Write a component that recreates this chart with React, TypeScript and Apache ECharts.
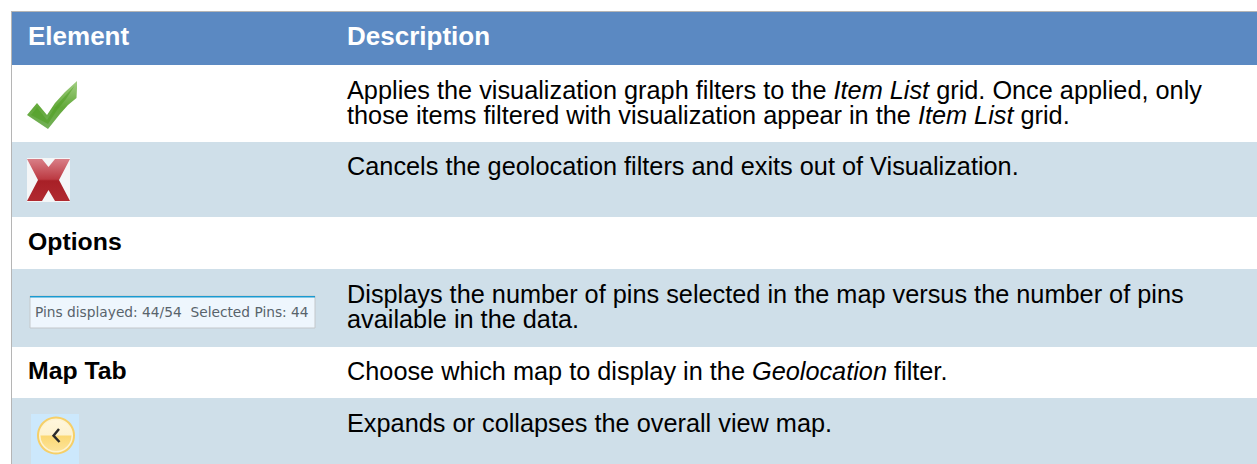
import React, { useEffect, useRef } from "react";
import * as echarts from "echarts";

const headers = ["Element", "Description"];
const rowLabels = ["", "", "Options", "", "Map Tab", ""];
const desc1 = [
  "{n|Applies the visualization graph filters to the }{i|Item List}{n| grid. Once applied, only}",
  "{n|those items filtered with visualization appear in the }{i|Item List}{n| grid.}",
];
const desc2 = ["{n|Cancels the geolocation filters and exits out of Visualization.}"];
const desc4 = [
  "{n|Displays the number of pins selected in the map versus the number of pins}",
  "{n|available in the data.}",
];
const desc5 = ["{n|Choose which map to display in the }{i|Geolocation}{n| filter.}"];
const desc6 = ["{n|Expands or collapses the overall view map.}"];
const pinsText = "Pins displayed: 44/54  Selected Pins: 44";

const FONT = "Liberation Sans, Arial, sans-serif";
const bodySize = 25.3;
const boldSize = 24.8;

export default function App() {
  const ref = useRef<HTMLDivElement>(null);
  useEffect(() => {
    document.body.style.margin = "0";
    const chart = echarts.init(ref.current!, undefined, { renderer: "svg" });
    const rich = {
      n: { fontFamily: FONT, fontSize: bodySize, lineHeight: 24, fill: "#000", color: "#000" },
      i: { fontFamily: FONT, fontSize: bodySize, lineHeight: 24, fontStyle: "italic", fill: "#000", color: "#000" },
    };
    const band = (y: number, h: number, fill: string) => ({
      type: "rect", shape: { x: 12, y, width: 1245, height: h }, style: { fill },
    });
    const desc = (lines: string[], y: number) =>
      lines.map((t, i) => ({
        type: "text", x: 347, y: y + i * 25,
        style: { text: t, rich, verticalAlign: "middle", align: "left" },
      }));
    const bold = (text: string, x: number, y: number, size: number, fill: string) => ({
      type: "text", x, y,
      style: { text, fontFamily: FONT, fontWeight: "bold", fontSize: size, fill, verticalAlign: "middle" },
    });
    const grad = (stops: [number, string][]) => ({
      type: "linear", x: 0, y: 0, x2: 0, y2: 1,
      colorStops: stops.map(([offset, color]) => ({ offset, color })),
    });
    chart.setOption({
      animation: false,
      backgroundColor: "#fff",
      graphic: {
        elements: [
          { type: "rect", shape: { x: 11, y: 11, width: 1246, height: 1 }, style: { fill: "#b5b5b5" } },
          { type: "rect", shape: { x: 11, y: 11, width: 1, height: 453 }, style: { fill: "#b5b5b5" } },
          band(12, 53, "#5b89c2"),
          band(142, 75, "#cfdfe9"),
          band(269, 78, "#cfdfe9"),
          band(398, 66, "#cfdfe9"),
          bold(headers[0], 28, 36, 26, "#fff"),
          bold(headers[1], 347, 36, 26, "#fff"),
          bold(rowLabels[2], 28, 241.5, boldSize, "#000"),
          bold(rowLabels[4], 28, 370.5, boldSize, "#000"),
          ...desc(desc1, 89.5),
          ...desc(desc2, 165.5),
          ...desc(desc4, 293.5),
          ...desc(desc5, 370.5),
          ...desc(desc6, 422.5),
          // check mark
          {
            type: "polygon",
            shape: { points: [[27, 115], [37, 103], [47, 115], [55, 103], [65, 92], [77, 81], [77, 88], [76.5, 98], [68, 105], [60, 114], [48, 129]] },
            style: { fill: grad([[0, "#a3cf84"], [0.55, "#63a93a"], [1, "#74b05a"]]) },
          },
          {
            type: "polygon",
            shape: { points: [[31, 115], [37, 107.5], [47, 120], [56, 106], [66, 95], [74.5, 86], [66, 99], [57, 110], [48, 124]] },
            style: { fill: "#4f9e22", opacity: 0.55 },
          },
          // cross
          { type: "rect", shape: { x: 27, y: 158, width: 43, height: 44 }, style: { fill: "#f4f6f7" } },
          {
            type: "polygon",
            shape: { points: [[27, 159], [42, 159], [48.5, 167], [55, 159], [70, 159], [59, 180], [70, 201], [55, 201], [48.5, 190], [42, 201], [27, 201], [38, 180]] },
            style: { fill: grad([[0, "#d97f87"], [0.48, "#bc3a42"], [0.52, "#a82027"], [1, "#b02a30"]]) },
          },
          // pins box
          { type: "rect", shape: { x: 30, y: 296, width: 285, height: 32 }, style: { fill: "#eef6fd", stroke: "#c4c8cb", lineWidth: 1 } },
          { type: "rect", shape: { x: 30, y: 296, width: 285, height: 1.5 }, style: { fill: "#1b9ad0" } },
          {
            type: "text", x: 35, y: 312,
            style: { text: pinsText, fontFamily: "DejaVu Sans, sans-serif", fontSize: 13.75, fill: "#58636b", verticalAlign: "middle" },
          },
          // collapse button
          { type: "rect", shape: { x: 31, y: 414, width: 48, height: 50 }, style: { fill: "#cce8fc" } },
          { type: "circle", shape: { cx: 56, cy: 435.5, r: 19 }, style: { fill: "#f6cf68" } },
          { type: "circle", shape: { cx: 56, cy: 435.5, r: 17 }, style: { fill: "#fdf3d2" } },
          { type: "circle", shape: { cx: 56, cy: 435.5, r: 15.5 }, style: { fill: grad([[0, "#fff6dc"], [0.49, "#fdf2cf"], [0.51, "#fbd873"], [1, "#fde398"]]) } },
          { type: "polyline", shape: { points: [[59, 429], [53.5, 435.7], [59.5, 442]] }, style: { stroke: "#2a2a2a", lineWidth: 2.4, fill: "none" } },
        ],
      },
    });
    return () => chart.dispose();
  }, []);
  return <div ref={ref} style={{ position: "absolute", left: 0, top: 0, width: 1257, height: 464 }} />;
}
